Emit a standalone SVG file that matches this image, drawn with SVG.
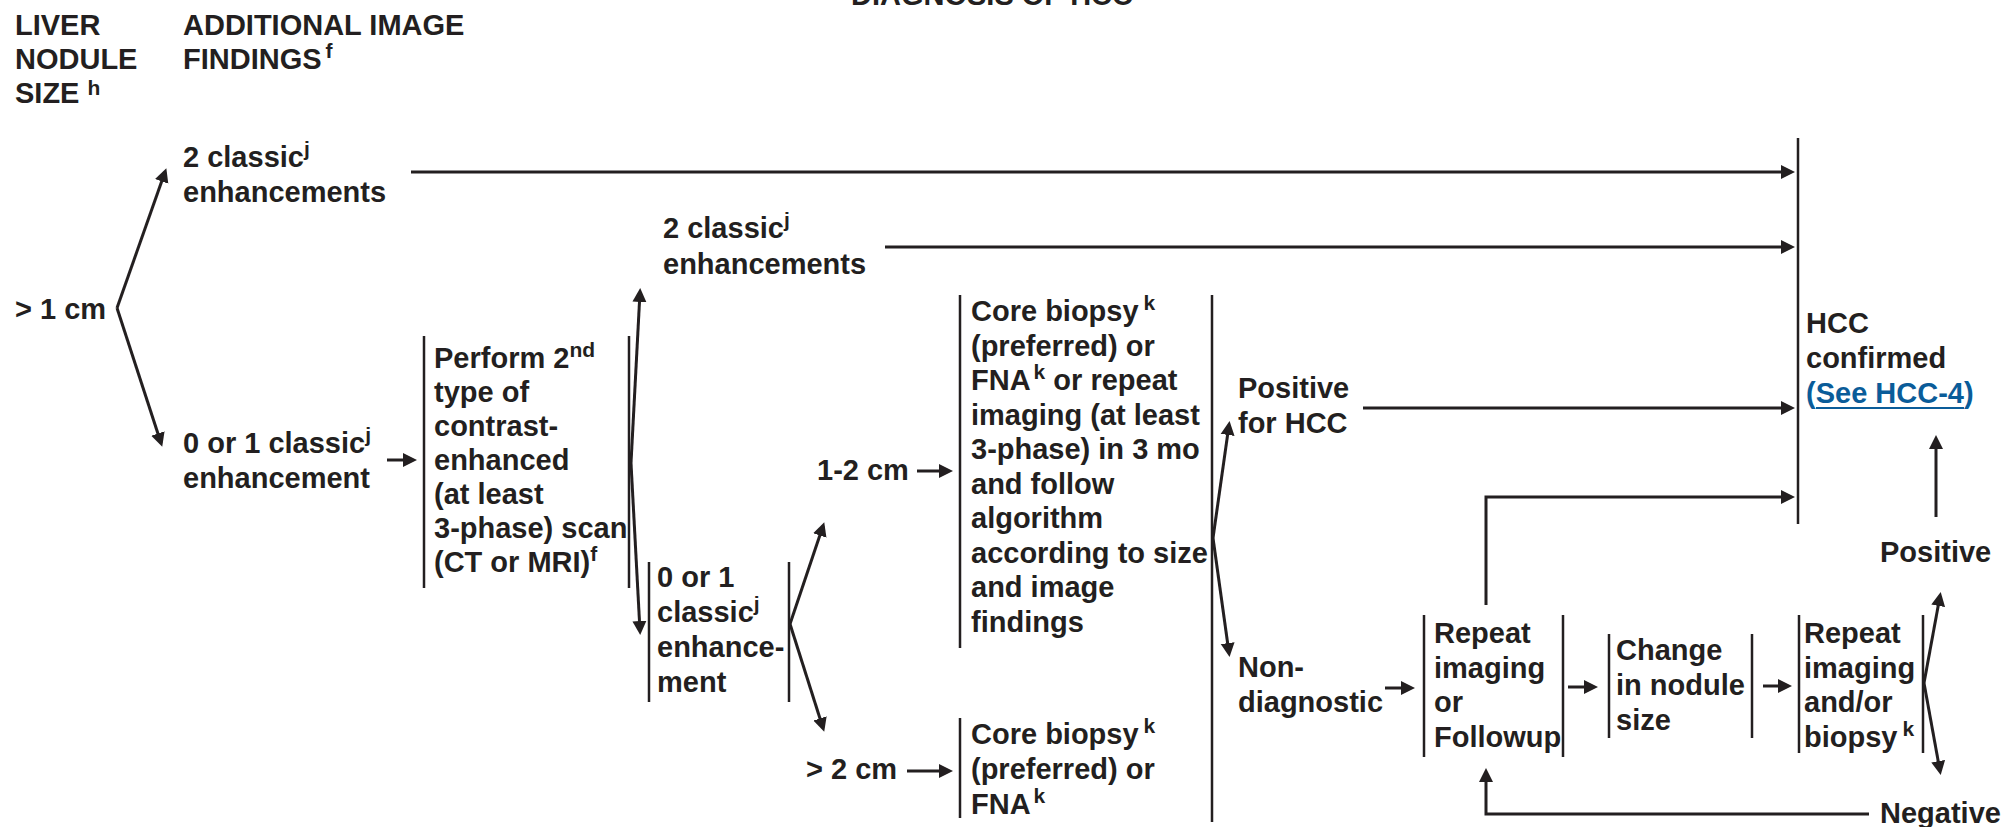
<svg xmlns="http://www.w3.org/2000/svg" width="2005" height="827" viewBox="0 0 2005 827">
<style>
text{font-family:"Liberation Sans",Arial,sans-serif;font-weight:bold;font-size:29px;fill:#231f20}
.s{font-size:21px}
.link{fill:#0a5c99}
.bar{stroke:#231f20;stroke-width:2.5;fill:none}
.c{stroke:#231f20;stroke-width:3;fill:none}
.a{marker-end:url(#ah)}
</style>
<defs>
<marker id="ah" markerUnits="userSpaceOnUse" markerWidth="15" markerHeight="15" refX="10" refY="7" orient="auto" viewBox="0 0 15 14">
<path d="M0,0 L14,7 L0,14 z" fill="#231f20"/>
</marker>
</defs>
<rect width="2005" height="827" fill="#fff"/>
<g id="title"><text x="851" y="5">DIAGNOSIS OF HCC</text></g>
<g id="hdr-size"><text><tspan x="15" y="35">LIVER</tspan><tspan x="15" y="69">NODULE</tspan><tspan x="15" y="103">SIZE <tspan class="s" dy="-8">h</tspan></tspan></text></g>
<g id="hdr-findings"><text><tspan x="183" y="35">ADDITIONAL IMAGE</tspan><tspan x="183" y="69">FINDINGS<tspan class="s" dx="4" dy="-11">f</tspan></tspan></text></g>
<g id="n-gt1"><text x="15" y="319">&gt; 1 cm</text></g>
<g id="n-2classic-a"><text><tspan x="183" y="167">2 classic<tspan class="s" dy="-11">j</tspan></tspan><tspan x="183" y="202">enhancements</tspan></text></g>
<g id="n-01classic-a"><text><tspan x="183" y="453">0 or 1 classic<tspan class="s" dy="-11">j</tspan></tspan><tspan x="183" y="488">enhancement</tspan></text></g>
<g id="n-perform">
<line class="bar" x1="424" y1="336" x2="424" y2="588"/>
<line class="bar" x1="629" y1="336" x2="629" y2="588"/>
<text><tspan x="434" y="368">Perform 2<tspan class="s" dy="-11">nd</tspan></tspan><tspan x="434" y="402">type of</tspan><tspan x="434" y="436">contrast-</tspan><tspan x="434" y="470">enhanced</tspan><tspan x="434" y="504">(at least</tspan><tspan x="434" y="538">3-phase) scan</tspan><tspan x="434" y="572">(CT or MRI)<tspan class="s" dy="-11">f</tspan></tspan></text>
</g>
<g id="n-2classic-b"><text><tspan x="663" y="238">2 classic<tspan class="s" dy="-11">j</tspan></tspan><tspan x="663" y="274">enhancements</tspan></text></g>
<g id="n-01classic-b">
<line class="bar" x1="649" y1="562" x2="649" y2="702"/>
<line class="bar" x1="789" y1="562" x2="789" y2="702"/>
<text><tspan x="657" y="587">0 or 1</tspan><tspan x="657" y="622">classic<tspan class="s" dy="-11">j</tspan></tspan><tspan x="657" y="657">enhance-</tspan><tspan x="657" y="692">ment</tspan></text>
</g>
<g id="n-1-2cm"><text x="817" y="480">1-2 cm</text></g>
<g id="n-gt2cm"><text x="806" y="779">&gt; 2 cm</text></g>
<g id="n-core1">
<line class="bar" x1="960" y1="295" x2="960" y2="648"/>
<line class="bar" x1="1212" y1="295" x2="1212" y2="822"/>
<text><tspan x="971" y="321">Core biopsy<tspan class="s" dx="5" dy="-11">k</tspan></tspan><tspan x="971" y="355.5">(preferred) or</tspan><tspan x="971" y="390">FNA<tspan class="s" dx="3" dy="-11">k</tspan><tspan dy="11"> or repeat</tspan></tspan><tspan x="971" y="424.5">imaging (at least</tspan><tspan x="971" y="459">3-phase) in 3 mo</tspan><tspan x="971" y="493.5">and follow</tspan><tspan x="971" y="528">algorithm</tspan><tspan x="971" y="562.5">according to size</tspan><tspan x="971" y="597">and image</tspan><tspan x="971" y="631.5">findings</tspan></text>
</g>
<g id="n-core2">
<line class="bar" x1="960" y1="718" x2="960" y2="818"/>
<text><tspan x="971" y="744">Core biopsy<tspan class="s" dx="5" dy="-11">k</tspan></tspan><tspan x="971" y="779">(preferred) or</tspan><tspan x="971" y="814">FNA<tspan class="s" dx="3" dy="-11">k</tspan></tspan></text>
</g>
<g id="n-posHCC"><text><tspan x="1238" y="398">Positive</tspan><tspan x="1238" y="433">for HCC</tspan></text></g>
<g id="n-nondiag"><text><tspan x="1238" y="677">Non-</tspan><tspan x="1238" y="712">diagnostic</tspan></text></g>
<g id="n-repeat">
<line class="bar" x1="1424" y1="615" x2="1424" y2="757"/>
<line class="bar" x1="1563" y1="615" x2="1563" y2="757"/>
<text><tspan x="1434" y="643">Repeat</tspan><tspan x="1434" y="678">imaging</tspan><tspan x="1434" y="712">or</tspan><tspan x="1434" y="747">Followup</tspan></text>
</g>
<g id="n-change">
<line class="bar" x1="1609" y1="634" x2="1609" y2="738"/>
<line class="bar" x1="1752" y1="634" x2="1752" y2="738"/>
<text><tspan x="1616" y="660">Change</tspan><tspan x="1616" y="695">in nodule</tspan><tspan x="1616" y="730">size</tspan></text>
</g>
<g id="n-repeat2">
<line class="bar" x1="1799" y1="615" x2="1799" y2="753"/>
<line class="bar" x1="1923" y1="615" x2="1923" y2="753"/>
<text><tspan x="1804" y="643">Repeat</tspan><tspan x="1804" y="678">imaging</tspan><tspan x="1804" y="712">and/or</tspan><tspan x="1804" y="747">biopsy<tspan class="s" dx="5" dy="-11">k</tspan></tspan></text>
</g>
<g id="n-hcc">
<line class="bar" x1="1798" y1="138" x2="1798" y2="524"/>
<text><tspan x="1806" y="333">HCC</tspan><tspan x="1806" y="368">confirmed</tspan><tspan x="1806" y="403" class="link">(See HCC-4)</tspan></text>
<line x1="1816" y1="408" x2="1964" y2="408" stroke="#0a5c99" stroke-width="2"/>
</g>
<g id="n-positive"><text x="1880" y="562">Positive</text></g>
<g id="n-negative"><text x="1880" y="823">Negative</text></g>
<g id="connectors">
<line class="c a" x1="117" y1="308" x2="165" y2="172"/>
<line class="c a" x1="117" y1="308" x2="161" y2="443"/>
<line class="c a" x1="411" y1="172" x2="1791" y2="172"/>
<line class="c a" x1="387" y1="460" x2="413" y2="460"/>
<line class="c a" x1="631" y1="463" x2="640" y2="292"/>
<line class="c a" x1="631" y1="463" x2="640" y2="631"/>
<line class="c a" x1="885" y1="247" x2="1791" y2="247"/>
<line class="c a" x1="790" y1="624" x2="823" y2="526"/>
<line class="c a" x1="790" y1="624" x2="823" y2="728"/>
<line class="c a" x1="917" y1="471" x2="949" y2="471"/>
<line class="c a" x1="907" y1="771" x2="949" y2="771"/>
<line class="c a" x1="1213" y1="538" x2="1229" y2="425"/>
<line class="c a" x1="1213" y1="538" x2="1229" y2="653"/>
<line class="c a" x1="1363" y1="408" x2="1791" y2="408"/>
<line class="c a" x1="1385" y1="688" x2="1411" y2="688"/>
<polyline class="c a" points="1486,605 1486,497 1791,497"/>
<line class="c a" x1="1568" y1="687" x2="1594" y2="687"/>
<line class="c a" x1="1763" y1="686" x2="1788" y2="686"/>
<line class="c a" x1="1924" y1="683" x2="1940" y2="596"/>
<line class="c a" x1="1924" y1="683" x2="1940" y2="771"/>
<line class="c a" x1="1936" y1="517" x2="1936" y2="439"/>
<polyline class="c a" points="1869,814 1486,814 1486,772"/>
</g>
</svg>
